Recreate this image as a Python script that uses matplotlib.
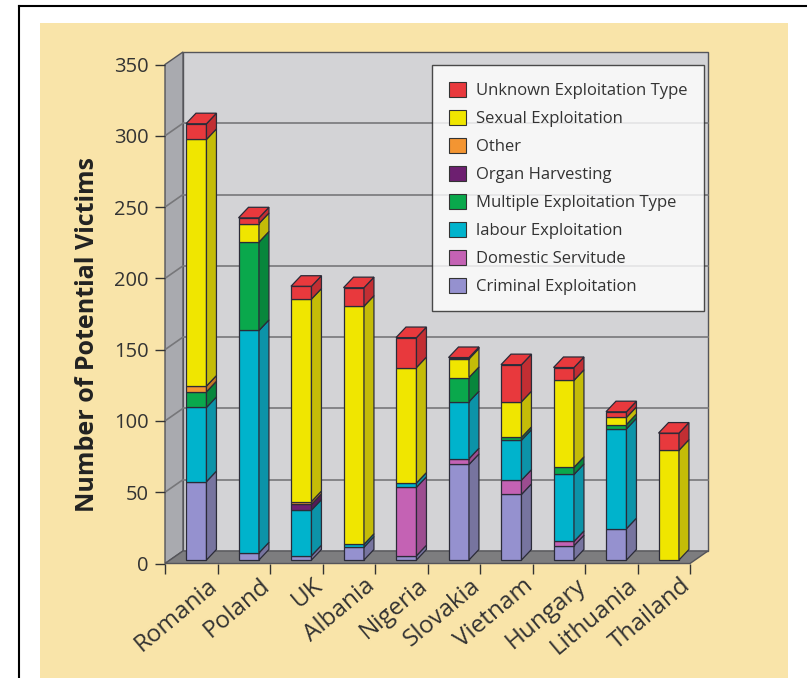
import matplotlib
matplotlib.use('Agg')
import matplotlib.pyplot as plt
from matplotlib.patches import Polygon, Rectangle, Patch
from matplotlib.lines import Line2D
from matplotlib.transforms import offset_copy

plt.rcParams['font.family'] = ['Open Sans', 'DejaVu Sans']

countries = ['Romania', 'Poland', 'UK', 'Albania', 'Nigeria',
             'Slovakia', 'Vietnam', 'Hungary', 'Lithuania', 'Thailand']

# one list per exploitation type, stacked bottom to top in this order
criminal = [55, 5, 3, 9, 3, 67, 46, 10, 22, 0]
domestic = [0, 0, 0, 0, 48, 4, 10, 3, 0, 0]
labour = [52, 156, 32, 2, 3, 40, 28, 47, 70, 0]
multiple = [11, 62, 0, 0, 0, 17, 2, 5, 3, 0]
organ = [0, 0, 4, 0, 0, 0, 0, 0, 0, 0]
other = [4, 0, 2, 0, 0, 0, 0, 0, 0, 0]
sexual = [173, 13, 142, 167, 81, 13, 25, 61, 5, 77]
unknown = [11, 4, 9, 13, 21, 1, 26, 9, 4, 12]

series = [
    ('Criminal Exploitation', criminal, '#9591cf', '#77749f'),
    ('Domestic Servitude', domestic, '#c462b4', '#9c4d90'),
    ('labour Exploitation', labour, '#00b3cc', '#0c93a8'),
    ('Multiple Exploitation Type', multiple, '#0aa84c', '#08863c'),
    ('Organ Harvesting', organ, '#6d1f70', '#561858'),
    ('Other', other, '#f39532', '#c47626'),
    ('Sexual Exploitation', sexual, '#f0e600', '#c4bc08'),
    ('Unknown Exploitation Type', unknown, '#e8393d', '#c22e33'),
]

ymax = 350
yticks = [0, 50, 100, 150, 200, 250, 300, 350]

# depth of the walls and of the bars, in data units
wall_dx, wall_dy = 0.343, 8.8
bar_dx, bar_dy = 0.19, 7.4
bar_sx, bar_sy = 0.095, 2.45
bar_w = 0.39

beige = '#f9e4a9'
edge = '#2b2b38'

fig = plt.figure(figsize=(8.07, 6.78), dpi=100)
fig.patch.set_facecolor('white')
fig.patches.append(Rectangle((40 / 807, 0), 748 / 807, 655 / 678,
                             transform=fig.transFigure, facecolor=beige,
                             edgecolor='none', zorder=-10))
fig.add_artist(Line2D([19 / 807, 1], [1 - 6 / 678, 1 - 6 / 678],
                      transform=fig.transFigure, color='black', lw=1.5, zorder=-5))
fig.add_artist(Line2D([19 / 807, 19 / 807], [0, 1 - 6 / 678],
                      transform=fig.transFigure, color='black', lw=1.5, zorder=-5))

ax = fig.add_axes([165 / 807, 114.5 / 678, 525 / 807, 499 / 678])
ax.set_xlim(0, len(countries))
ax.set_ylim(0, ymax)
ax.patch.set_visible(False)
for s in ax.spines.values():
    s.set_visible(False)

n = len(countries)
# back wall, side wall and floor
ax.add_patch(Rectangle((wall_dx, wall_dy), n, ymax, facecolor='#d3d3d6',
                       edgecolor='#55555a', lw=1, clip_on=False, zorder=1))
ax.add_patch(Polygon([(0, 0), (wall_dx, wall_dy), (wall_dx, ymax + wall_dy), (0, ymax)],
                     facecolor='#a9aaaf', edgecolor='#55555a', lw=1, clip_on=False, zorder=1))
ax.add_patch(Polygon([(0, 0), (n, 0), (n + wall_dx, wall_dy), (wall_dx, wall_dy)],
                     facecolor='#7d7d7f', edgecolor='#55555a', lw=1, clip_on=False, zorder=2))
for v in yticks[1:-1]:
    ax.plot([wall_dx, n + wall_dx], [v + wall_dy, v + wall_dy], color='#77777a', lw=1.2,
            clip_on=False, zorder=1.5)
    ax.plot([0, wall_dx], [v, v + wall_dy], color='#77777a', lw=1.2, clip_on=False, zorder=1.5)

# stacked 3-d bars
for i in range(n):
    x0 = i + 0.5 - bar_w / 2 + bar_sx
    x1 = x0 + bar_w
    base = bar_sy
    top_color = None
    for name, vals, col, side in series:
        v = vals[i]
        if v <= 0:
            continue
        b, t = base, base + v
        ax.add_patch(Rectangle((x0, b), bar_w, v, facecolor=col, edgecolor=edge,
                               lw=0.9, zorder=3, clip_on=False))
        ax.add_patch(Polygon([(x1, b), (x1 + bar_dx, b + bar_dy), (x1 + bar_dx, t + bar_dy), (x1, t)],
                             facecolor=side, edgecolor=edge, lw=0.9, zorder=3, clip_on=False))
        base = t
        top_color = col
    ax.add_patch(Polygon([(x0, base), (x1, base), (x1 + bar_dx, base + bar_dy), (x0 + bar_dx, base + bar_dy)],
                         facecolor=top_color, edgecolor=edge, lw=0.9, zorder=3, clip_on=False))

ax.set_yticks(yticks)
ax.set_yticklabels([str(v) for v in yticks], fontsize=14.5, color='#333333')
ax.set_xticks(range(n + 1))
ax.set_xticklabels([])
ax.tick_params(axis='both', direction='out', length=7, width=1, color='#333333')
ax.tick_params(axis='y', pad=5)

label_tr = offset_copy(ax.transData, fig=fig, x=16, y=-10, units='dots')
for i, c in enumerate(countries):
    ax.text(i + 0.5, 0, c, transform=label_tr, rotation=40, rotation_mode='anchor',
            ha='right', va='top', fontsize=17.5, color='#333333')

fig.text(88 / 807, 1 - 335 / 678, 'Number of Potential Victims', rotation=90,
         ha='center', va='center', fontsize=18, fontweight='bold', color='#222222')

handles = [Patch(facecolor=col, edgecolor='#333333', lw=0.8, label=name)
           for name, vals, col, side in reversed(series)]
leg = ax.legend(handles=handles, loc='upper left', bbox_to_anchor=(0.509, 0.999),
                frameon=True, fancybox=False, fontsize=12, handlelength=1.0,
                handleheight=1.0, handletextpad=0.6, labelspacing=0.65,
                borderpad=1.0, borderaxespad=0)
leg.get_frame().set_edgecolor('#222222')
leg.get_frame().set_linewidth(1.0)
leg.set_zorder(5)
for t in leg.get_texts():
    t.set_color('#333333')

plt.savefig('out.png', dpi=100, facecolor=fig.get_facecolor())
plt.close()
